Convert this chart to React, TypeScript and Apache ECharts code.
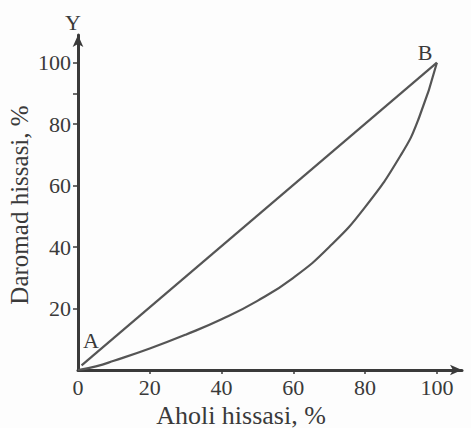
import React, { useEffect, useRef } from "react";
import * as echarts from "echarts";

const xTickLabels = [0, 20, 40, 60, 80, 100];
const yTickLabels = [20, 40, 60, 80, 100];
const yTickMarks = [20, 40, 60, 80, 90, 100];

// Equality line A -> B
const equalityX = [1, 100];
const equalityY = [1.5, 100];

// Lorenz curve
const lorenzX = [0, 5, 10, 20, 30, 40, 50, 60, 70, 80, 90, 95, 100];
const lorenzY = [0, 1.2, 3, 7, 11.5, 16.5, 22.5, 30, 40, 53, 70, 82, 100];

const xTitle = "Aholi hissasi, %";
const yTitle = "Daromad hissasi, %";

const FONT = "'Liberation Serif', 'DejaVu Serif', serif";
const INK = "#3a3a3a";
const LINE = "#555";

export default function App() {
  const ref = useRef<HTMLDivElement>(null);

  useEffect(() => {
    document.body.style.margin = "0";
    if (!ref.current) return;
    const chart = echarts.init(ref.current, null, { renderer: "svg" });

    const eq = equalityX.map((x, i) => [x, equalityY[i]]);
    const lz = lorenzX.map((x, i) => [x, lorenzY[i]]);

    chart.setOption({
      animation: false,
      backgroundColor: "#fdfdfd",
      grid: { left: 78, right: 9, top: 35, bottom: 58 },
      xAxis: {
        type: "value",
        min: 0,
        max: 107,
        splitLine: { show: false },
        axisLine: {
          show: true,
          onZero: false,
          symbol: ["none", "arrow"],
          symbolSize: [8, 12],
          lineStyle: { color: INK, width: 3 },
        },
        axisTick: {
          show: true,
          length: 4,
          customValues: [20, 40, 60, 80, 100],
          lineStyle: { color: INK, width: 1.5 },
        },
        axisLabel: {
          customValues: xTickLabels,
          fontFamily: FONT,
          fontSize: 22,
          color: INK,
          margin: 6,
        },
      },
      yAxis: {
        type: "value",
        min: 0,
        max: 109,
        splitLine: { show: false },
        axisLine: {
          show: true,
          onZero: false,
          symbol: ["none", "arrow"],
          symbolSize: [8, 12],
          lineStyle: { color: INK, width: 3 },
        },
        axisTick: {
          show: true,
          length: 5,
          customValues: yTickMarks,
          lineStyle: { color: INK, width: 1.5 },
        },
        axisLabel: {
          customValues: yTickLabels,
          fontFamily: FONT,
          fontSize: 22,
          color: INK,
          margin: 7,
        },
      },
      series: [
        {
          type: "line",
          data: eq,
          showSymbol: false,
          symbol: "none",
          lineStyle: { color: LINE, width: 2.2 },
        },
        {
          type: "line",
          data: lz,
          smooth: 0.5,
          showSymbol: false,
          symbol: "none",
          lineStyle: { color: LINE, width: 2.2 },
        },
      ],
      graphic: [
        {
          type: "text",
          x: 73,
          y: 22,
          style: {
            text: "Y",
            fontFamily: FONT,
            fontSize: 22,
            fill: INK,
            align: "center",
            verticalAlign: "middle",
          },
        },
        {
          type: "text",
          x: 91,
          y: 340,
          style: {
            text: "A",
            fontFamily: FONT,
            fontSize: 22,
            fill: INK,
            align: "center",
            verticalAlign: "middle",
          },
        },
        {
          type: "text",
          x: 425,
          y: 52,
          style: {
            text: "B",
            fontFamily: FONT,
            fontSize: 22,
            fill: INK,
            align: "center",
            verticalAlign: "middle",
          },
        },
        {
          type: "text",
          x: 241,
          y: 415,
          style: {
            text: xTitle,
            fontFamily: FONT,
            fontSize: 26,
            fill: INK,
            align: "center",
            verticalAlign: "middle",
          },
        },
        {
          type: "text",
          x: 19,
          y: 205,
          rotation: Math.PI / 2,
          style: {
            text: yTitle,
            fontFamily: FONT,
            fontSize: 25,
            fill: INK,
            align: "center",
            verticalAlign: "middle",
          },
        },
      ],
    });

    return () => chart.dispose();
  }, []);

  return (
    <div
      ref={ref}
      style={{ position: "fixed", left: 0, top: 0, width: 471, height: 428 }}
    />
  );
}
